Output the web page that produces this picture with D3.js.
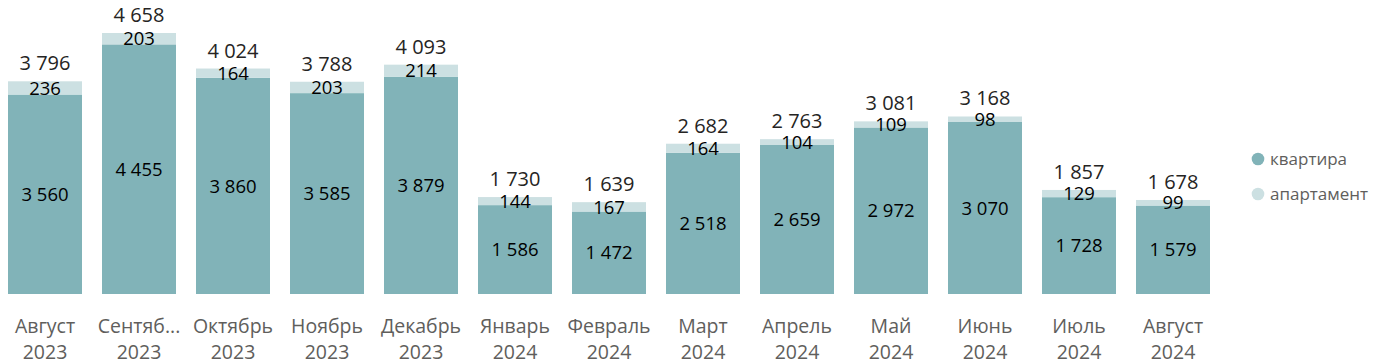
<!DOCTYPE html>
<html>
<head>
<meta charset="utf-8">
<script src="https://cdn.jsdelivr.net/npm/d3@7"></script>
<style>
  body { margin: 0; background: #fff; }
  svg { display: block; font-family: "Segoe UI", "Open Sans", sans-serif; }
</style>
</head>
<body>
<div class="graph"></div>
<script>
// months shown on the x axis (two lines: month / year)
const months = ["Август", "Сентябрь", "Октябрь", "Ноябрь", "Декабрь", "Январь", "Февраль",
    "Март", "Апрель", "Май", "Июнь", "Июль", "Август"];
const years = ["2023", "2023", "2023", "2023", "2023", "2024", "2024",
    "2024", "2024", "2024", "2024", "2024", "2024"];
const kvartira = [3560, 4455, 3860, 3585, 3879, 1586, 1472, 2518, 2659, 2972, 3070, 1728, 1579];
const apartment = [236, 203, 164, 203, 214, 144, 167, 164, 104, 109, 98, 129, 99];
const seriesNames = ["квартира", "апартамент"];

const colors = { kv: "#81b3b8", ap: "#cce0e2" };

const width = 1377, height = 363;
const svg = d3.select(".graph").append("svg").attr("width", width).attr("height", height);

const rows = months.map((m, i) => ({ key: i, month: m, year: years[i], kv: kvartira[i], ap: apartment[i], total: kvartira[i] + apartment[i] }));

const x = d3.scaleBand().domain(rows.map(d => d.key)).range([-2, 1220])
    .paddingInner(20 / 94).paddingOuter(10 / 94);
const y = d3.scaleLinear().domain([0, d3.max(rows, d => d.total)]).range([294, 33]);

const fmt = d3.formatLocale({ decimal: ",", thousands: " ", grouping: [3], currency: ["", ""] }).format(",d");

const stack = d3.stack().keys(["kv", "ap"])(rows);

const g = svg.append("g");
g.selectAll("g.layer").data(stack).join("g")
    .attr("class", "layer")
    .attr("fill", d => colors[d.key])
    .selectAll("rect").data(d => d).join("rect")
    .attr("x", d => x(d.data.key))
    .attr("width", x.bandwidth())
    .attr("y", d => y(d[1]))
    .attr("height", d => y(d[0]) - y(d[1]));

// labels inside segments
g.selectAll("g.lab").data(stack).join("g")
    .attr("class", "lab")
    .selectAll("text").data(d => d).join("text")
    .attr("x", d => x(d.data.key) + x.bandwidth() / 2)
    .attr("y", d => (y(d[0]) + y(d[1])) / 2)
    .attr("dy", "0.36em")
    .attr("text-anchor", "middle")
    .attr("font-size", 18.5)
    .attr("fill", "#000")
    .text(d => fmt(d[1] - d[0]));

// totals
g.selectAll("text.total").data(rows).join("text")
    .attr("class", "total")
    .attr("x", d => x(d.key) + x.bandwidth() / 2)
    .attr("y", d => y(d.total) - 11)
    .attr("text-anchor", "middle")
    .attr("font-size", 20)
    .attr("fill", "#252423")
    .text(d => fmt(d.total));

// x axis labels
const xAxis = svg.append("g").attr("transform", "translate(0,294)")
    .call(d3.axisBottom(x).tickSize(0).tickFormat(""));
xAxis.select(".domain").remove();

const xl = svg.append("g").selectAll("text").data(rows).join("text")
    .attr("x", d => x(d.key) + x.bandwidth() / 2)
    .attr("text-anchor", "middle")
    .attr("font-size", 19.5)
    .attr("fill", "#605e5c");
xl.append("tspan").attr("x", d => x(d.key) + x.bandwidth() / 2).attr("y", 333).text(d => d.month);
xl.append("tspan").attr("x", d => x(d.key) + x.bandwidth() / 2).attr("y", 359).text(d => d.year);

// truncate month names wider than the band
xl.select("tspan").each(function (d) {
    const t = d3.select(this);
    let s = d.month;
    const maxW = 84;
    if (this.getComputedTextLength() > maxW) {
        while (s.length > 1) {
            s = s.slice(0, -1);
            t.text(s + "...");
            if (this.getComputedTextLength() <= maxW) break;
        }
    }
});

// legend
const legend = svg.append("g").selectAll("g").data(seriesNames).join("g")
    .attr("transform", (d, i) => `translate(1258,${159 + i * 35})`);
legend.append("circle").attr("r", 6.3).attr("fill", (d, i) => i === 0 ? colors.kv : colors.ap);
legend.append("text").attr("x", 12).attr("dy", "0.35em")
    .attr("font-size", 17).attr("fill", "#605e5c").text(d => d);
</script>
</body>
</html>
